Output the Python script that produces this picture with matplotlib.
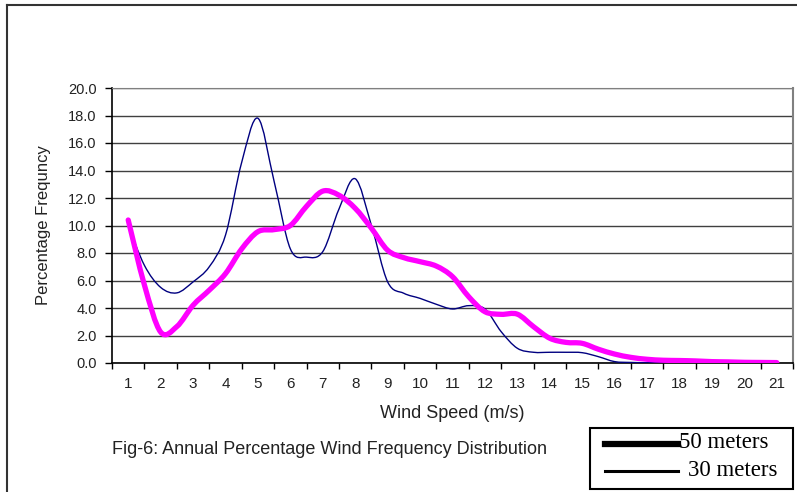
import numpy as np
import matplotlib.pyplot as plt
from matplotlib.lines import Line2D
from matplotlib.path import Path
from matplotlib.patches import PathPatch

# wind speed categories (m/s), values read at half steps
speed = np.arange(1, 21.5, 0.5)

# 30 meters (thin navy line)
freq_30m = [10.0, 7.1, 5.5, 5.1, 5.9, 7.0, 9.3, 14.6, 17.8, 13.2,
            8.3, 7.7, 8.1, 11.2, 13.4, 10.0, 5.9, 5.07, 4.7, 4.27,
            3.93, 4.17, 3.93, 2.28, 1.07, 0.78, 0.78, 0.78, 0.75, 0.46,
            0.1, 0.04, 0.02, 0.02, 0.01, 0.01, 0.0, 0.0, 0.0, 0.0, 0.0]

# 50 meters (thick magenta line)
freq_50m = [10.4, 5.67, 2.25, 2.65, 4.2, 5.3, 6.5, 8.3, 9.55, 9.7,
            10.0, 11.4, 12.5, 12.2, 11.25, 9.8, 8.2, 7.66, 7.37, 7.05,
            6.28, 4.82, 3.73, 3.54, 3.55, 2.64, 1.8, 1.5, 1.43, 1.0,
            0.65, 0.41, 0.27, 0.2, 0.18, 0.15, 0.1, 0.08, 0.05, 0.04, 0.03]

categories = [str(i) for i in range(1, 22)]
y_ticks = np.arange(0, 20.1, 2.0)


def smooth_path(x, y):
    # Excel-style "smoothed line": Catmull-Rom segments drawn as cubic Beziers
    p = np.column_stack([x, y]).astype(float)
    ext = np.vstack([p[0], p, p[-1]])
    verts = [p[0]]
    codes = [Path.MOVETO]
    for i in range(1, len(ext) - 2):
        c1 = ext[i] + (ext[i + 1] - ext[i - 1]) / 6
        c2 = ext[i + 1] - (ext[i + 2] - ext[i]) / 6
        verts += [c1, c2, ext[i + 1]]
        codes += [Path.CURVE4] * 3
    return Path(verts, codes)


W, H = 797, 492
fig = plt.figure(figsize=(W / 100, H / 100), dpi=100)
plt.rcParams['font.family'] = ['Liberation Sans', 'DejaVu Sans']

ax = fig.add_axes([112 / W, 1 - 363 / H, 681 / W, 275 / H])

ax.add_patch(PathPatch(smooth_path(speed, freq_30m), fill=False, edgecolor='#000080',
                       lw=1.0, joinstyle='round', zorder=3))
ax.add_patch(PathPatch(smooth_path(speed, freq_50m), fill=False, edgecolor='#FF00FF',
                       lw=3.8, joinstyle='round', capstyle='round', zorder=4))

ax.set_xlim(0.5, 21.5)
ax.set_ylim(0, 20)

# category ticks: marks on boundaries, labels in the middle
ax.set_xticks(np.arange(0.5, 22, 1.0))
ax.set_xticklabels([])
ax.set_xticks(np.arange(1, 22), minor=True)
ax.set_xticklabels(categories, minor=True, fontsize=11, color='#222222')
ax.tick_params(axis='x', which='major', direction='out', length=4, width=1, color='black')
ax.tick_params(axis='x', which='minor', length=0, pad=10)

ax.set_yticks(y_ticks)
ax.set_yticklabels([f'{v:.1f}' for v in y_ticks], fontsize=10.5, color='#222222')
ax.tick_params(axis='y', direction='out', length=5, width=1, color='black', pad=6)

ax.yaxis.grid(True, color='#404040', lw=1.0)
ax.set_axisbelow(True)

ax.spines['left'].set_color('black')
ax.spines['bottom'].set_color('black')
ax.spines['left'].set_linewidth(1.2)
ax.spines['bottom'].set_linewidth(1.2)
ax.spines['top'].set_color('#808080')
ax.spines['right'].set_color('#808080')
ax.spines['right'].set_linewidth(1.5)

ax.set_xlabel('Wind Speed (m/s)', fontsize=13, color='#222222', labelpad=10)
ax.set_ylabel('Percentage Frequncy', fontsize=12, color='#222222', labelpad=12)

# caption
fig.text(112 / W, 1 - 449 / H, 'Fig-6: Annual Percentage Wind Frequency Distribution',
         fontsize=13, color='#222222', ha='left', va='center')

# outer frame (top and left edges)
fig.add_artist(Line2D([7 / W, 1], [1 - 5 / H, 1 - 5 / H], color='#333333', lw=1.5))
fig.add_artist(Line2D([7 / W, 7 / W], [0, 1 - 5 / H], color='#333333', lw=1.5))

# legend box
fig.add_artist(plt.Rectangle((590 / W, 1 - 489 / H), 203 / W, 61 / H, fill=False,
                             edgecolor='black', lw=1.5, transform=fig.transFigure))
fig.add_artist(Line2D([605 / W, 678 / W], [1 - 444 / H, 1 - 444 / H], color='black', lw=4.5))
fig.add_artist(Line2D([605 / W, 678 / W], [1 - 471 / H, 1 - 471 / H], color='black', lw=2.2))
fig.text(679 / W, 1 - 443 / H, '50 meters', fontsize=16.5, family='Liberation Serif',
         ha='left', va='center')
fig.text(688 / W, 1 - 470 / H, '30 meters', fontsize=16.5, family='Liberation Serif',
         ha='left', va='center')

fig.savefig('out.png', dpi=100)
